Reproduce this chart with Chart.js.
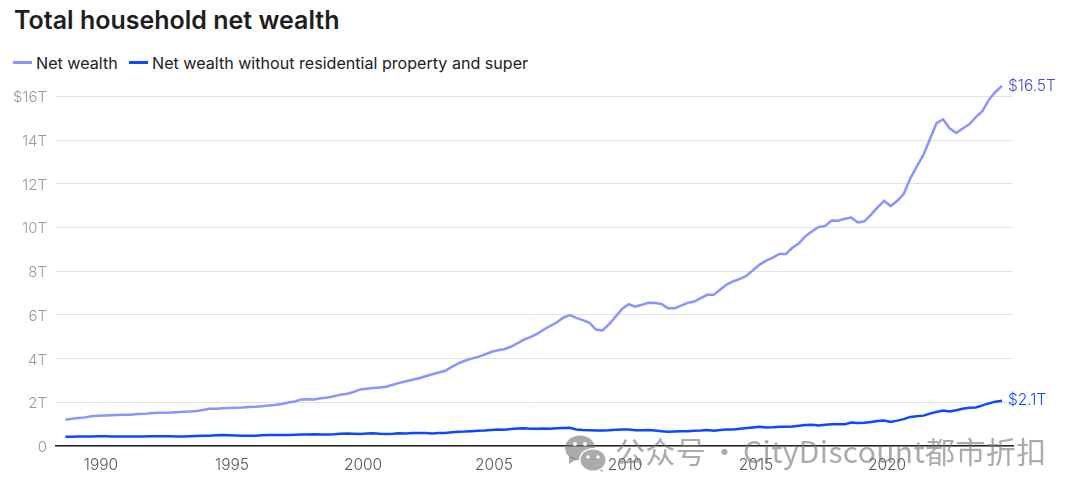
<!DOCTYPE html>
<html>
<head>
<meta charset="utf-8">
<script src="https://cdn.jsdelivr.net/npm/chart.js@4/dist/chart.umd.min.js"></script>
<style>
html,body{margin:0;padding:0;background:#fff;width:1080px;height:496px;overflow:hidden;font-family:Inter,sans-serif}
#title{position:absolute;left:14px;top:5px;font-size:25px;font-weight:600;color:#1e1e1e;white-space:nowrap}
#legend{position:absolute;left:13px;top:53px;font-size:16.1px;color:#222;white-space:nowrap;line-height:20px}
#legend span{position:absolute;top:0}
#legend i{position:absolute;top:8px;width:19px;height:2.5px}
#chart-wrap{position:absolute;left:0;top:0;width:1080px;height:496px}
#mark{position:absolute;left:615px;top:428px;font:30px "Noto Sans CJK SC",sans-serif;color:rgba(120,120,120,.62);white-space:nowrap;letter-spacing:.35px}
#mark b{display:inline-block;width:37px;text-align:center;font-weight:400}
#logo{position:absolute;left:564px;top:435px}
</style>
</head>
<body>
<div id="title">Total household net wealth</div>
<div id="legend">
  <i style="left:0;background:#8b93ff"></i><span style="left:23px">Net wealth</span>
  <i style="left:116px;background:#0d47ff"></i><span style="left:139px">Net wealth without residential property and super</span>
</div>
<div id="chart-wrap"><canvas id="chart" width="1080" height="496"></canvas></div>
<svg id="logo" width="44" height="38" viewBox="0 0 44 38">
  <g fill="rgba(120,120,120,.62)">
    <ellipse cx="16" cy="13" rx="15" ry="12.5"/><path d="M5 21l0 8 8-5z"/>
    <path d="M37 31l2 6-8-3z"/>
  </g>
  <ellipse cx="29" cy="25" rx="14" ry="12" fill="#fff"/>
  <ellipse cx="29" cy="25" rx="12.5" ry="10.5" fill="rgba(120,120,120,.62)"/>
  <g fill="#fff">
    <circle cx="11" cy="9" r="2"/><circle cx="21" cy="9" r="2"/>
    <circle cx="24" cy="22" r="1.7"/><circle cx="34" cy="22" r="1.7"/>
  </g>
</svg>
<div id="mark">公众号<b>·</b>CityDiscount都市折扣</div>
<script>
const firstQuarter=1988.64;
const netWealth=[1.20,1.25,1.28,1.31,1.36,1.38,1.40,1.41,1.42,1.43,1.43,1.46,1.47,1.50,1.52,1.52,1.53,1.55,1.57,1.58,
  1.60,1.65,1.70,1.71,1.73,1.74,1.75,1.76,1.79,1.80,1.82,1.85,1.88,1.92,1.99,2.04,2.13,2.14,2.13,2.18,
  2.22,2.28,2.35,2.39,2.47,2.59,2.62,2.65,2.68,2.71,2.80,2.89,2.96,3.03,3.10,3.19,3.28,3.36,3.44,3.62,
  3.78,3.90,4.00,4.08,4.18,4.30,4.38,4.43,4.54,4.70,4.87,4.98,5.13,5.32,5.49,5.65,5.87,5.99,5.86,5.76,
  5.64,5.33,5.29,5.57,5.92,6.27,6.49,6.38,6.46,6.55,6.54,6.50,6.30,6.30,6.42,6.55,6.61,6.77,6.92,6.92,
  7.16,7.40,7.54,7.65,7.79,8.05,8.30,8.48,8.62,8.79,8.79,9.07,9.28,9.60,9.83,10.02,10.07,10.32,10.31,10.40,
  10.45,10.23,10.28,10.59,10.92,11.22,10.98,11.22,11.54,12.25,12.80,13.32,14.05,14.77,14.95,14.54,14.32,14.53,14.72,15.05,
  15.32,15.85,16.20,16.48];
const netWealthExcl=[.42,.42,.43,.43,.44,.45,.45,.44,.44,.44,.44,.44,.44,.45,.45,.45,.45,.44,.44,.45,
  .46,.47,.47,.49,.50,.49,.48,.47,.47,.47,.49,.50,.50,.50,.50,.52,.53,.53,.54,.53,
  .53,.54,.56,.57,.56,.55,.57,.58,.56,.55,.56,.58,.57,.60,.60,.59,.57,.59,.60,.63,
  .65,.66,.68,.70,.71,.73,.75,.74,.78,.80,.81,.79,.79,.80,.79,.81,.82,.83,.76,.73,
  .72,.71,.71,.72,.74,.75,.75,.72,.72,.73,.71,.68,.65,.66,.67,.68,.70,.71,.73,.70,
  .73,.75,.76,.79,.82,.85,.88,.85,.86,.88,.88,.89,.93,.96,.97,.94,.97,1.00,1.00,1.00,
  1.07,1.05,1.06,1.10,1.14,1.17,1.10,1.16,1.23,1.33,1.36,1.39,1.48,1.56,1.62,1.58,1.64,1.70,1.75,1.76,
  1.86,1.95,2.03,2.07];
const quarters=netWealth.map((_,i)=>firstQuarter+i*0.25);
const yearTicks=[1990,1995,2000,2005,2010,2015,2020];
const wealthTicks=[0,2,4,6,8,10,12,14,16];
const wealthTickLabels=['0','2T','4T','6T','8T','10T','12T','14T','$16T'];
const endLabels=['$16.5T','$2.1T'];

// end-of-line value labels
const endLabelPlugin={
  id:'endLabels',
  afterDatasetsDraw(chart){
    const ctx=chart.ctx;
    const colors=['#4450c8','#0d47ff'];
    chart.data.datasets.forEach((ds,i)=>{
      const pts=chart.getDatasetMeta(i).data;
      const last=pts[pts.length-1];
      ctx.save();
      ctx.font='300 15.5px Inter';
      ctx.fillStyle=colors[i];
      ctx.textBaseline='middle';
      ctx.fillText(endLabels[i],last.x+6,last.y);
      ctx.restore();
    });
  }
};

new Chart(document.getElementById('chart'),{
  type:'line',
  data:{
    labels:quarters,
    datasets:[
      {label:'Net wealth',data:netWealth.map((v,i)=>({x:quarters[i],y:v})),borderColor:'#8b93ff',borderWidth:2.5,pointRadius:0,tension:0},
      {label:'Net wealth without residential property and super',data:netWealthExcl.map((v,i)=>({x:quarters[i],y:v})),borderColor:'#0d47ff',borderWidth:2.5,pointRadius:0,tension:0}
    ]
  },
  plugins:[endLabelPlugin],
  options:{
    responsive:false,
    animation:false,
    layout:{padding:{top:74.5,right:67,left:0,bottom:0}},
    plugins:{legend:{display:false},title:{display:false},tooltip:{enabled:false}},
    scales:{
      x:{
        type:'linear',
        min:1988.282,
        max:2024.809,
        afterBuildTicks:s=>{s.ticks=yearTicks.map(v=>({value:v}));},
        afterFit:s=>{s.height=50;},
        grid:{display:false},
        border:{color:'#222',width:1.5},
        ticks:{color:'#555',font:{family:'Inter',size:15.5,weight:300},padding:2,maxRotation:0,callback:v=>String(v)}
      },
      y:{
        min:0,
        max:17,
        afterBuildTicks:s=>{s.ticks=wealthTicks.map(v=>({value:v}));},
        afterFit:s=>{s.width=56;},
        grid:{color:'#e2e2e2',lineWidth:1,tickLength:0},
        border:{display:false},
        ticks:{color:'#999',font:{family:'Inter',size:15,weight:300},padding:9,labelOffset:1.5,
          callback:v=>wealthTickLabels[wealthTicks.indexOf(v)]}
      }
    }
  }
});
</script>
</body>
</html>
